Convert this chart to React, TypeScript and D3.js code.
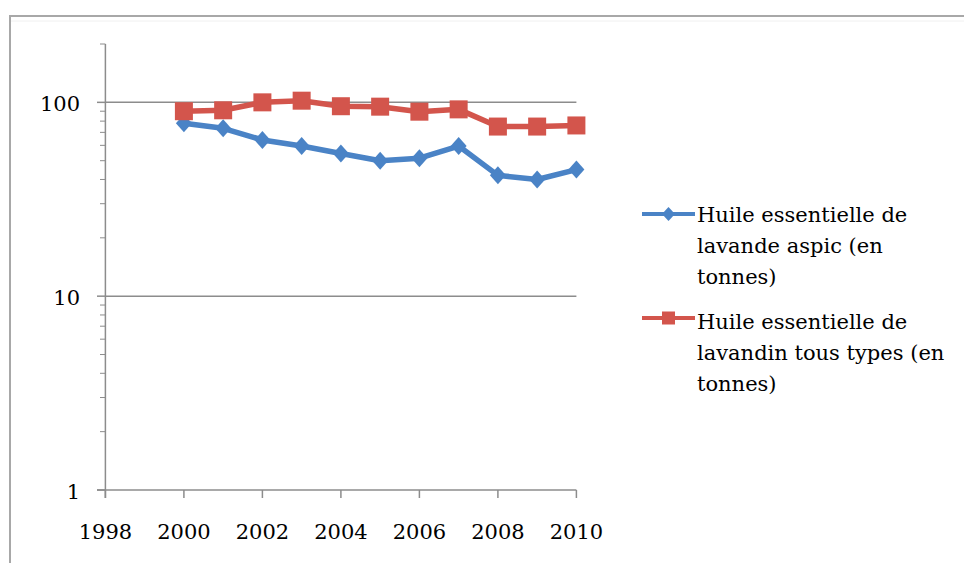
import React from "react";
import * as d3 from "d3";

const years = [2000, 2001, 2002, 2003, 2004, 2005, 2006, 2007, 2008, 2009, 2010];
const aspic = [78, 73.5, 64, 59.5, 54.5, 50, 51.5, 59.5, 42, 40, 45];
const lavandin = [90, 91, 100, 102, 95.5, 95, 89.5, 92, 75, 75, 76];
const xTicks = [1998, 2000, 2002, 2004, 2006, 2008, 2010];
const yMajor = [1, 10, 100];
const legendAspic = ["Huile essentielle de", "lavande aspic (en", "tonnes)"];
const legendLavandin = ["Huile essentielle de", "lavandin tous types (en", "tonnes)"];

const BLUE = "#4a83c6";
const RED = "#d3554c";
const AXIS = "#8c8c8c";
const FONT = "DejaVu Serif";

export default function App() {
  const x = d3.scaleLinear().domain([1998, 2010]).range([105.4, 576.4]);
  const y = d3.scaleLog().domain([1, 200]).range([490, 44]);

  const minor: number[] = [];
  [1, 10, 100].forEach((dec) => {
    for (let k = 2; k <= 9; k++) {
      const v = k * dec;
      if (v <= 200) minor.push(v);
    }
  });

  const line = d3
    .line<number>()
    .x((_, i) => x(years[i]))
    .y((d) => y(d));

  const diamond = (cx: number, cy: number, rx: number, ry: number) =>
    `M${cx},${cy - ry}L${cx + rx},${cy}L${cx},${cy + ry}L${cx - rx},${cy}Z`;

  const x0 = x.range()[0];
  const x1 = x.range()[1];

  return (
    <svg
      width={964}
      height={563}
      style={{ position: "absolute", left: 0, top: 0, background: "#fff" }}
      fontFamily={FONT}
    >
      <rect x={0} y={0} width={964} height={563} fill="#fff" />
      <rect x={10} y={16} width={1000} height={600} fill="none" stroke="#a8a8a8" strokeWidth={2} />
      <line x1={11} x2={964} y1={21} y2={21} stroke="#f0f0f0" strokeWidth={1} />

      {/* gridlines */}
      {yMajor.slice(1).map((v) => (
        <line key={"g" + v} x1={x0} x2={x1} y1={y(v)} y2={y(v)} stroke={AXIS} strokeWidth={1.5} />
      ))}

      {/* y axis */}
      <line x1={x0} x2={x0} y1={y(200)} y2={498} stroke={AXIS} strokeWidth={1.5} />
      {yMajor.map((v) => (
        <line key={"ym" + v} x1={97} x2={x0} y1={y(v)} y2={y(v)} stroke={AXIS} strokeWidth={1.5} />
      ))}
      {minor.map((v) => (
        <line key={"yn" + v} x1={100} x2={x0} y1={y(v)} y2={y(v)} stroke={AXIS} strokeWidth={1} />
      ))}
      {yMajor.map((v) => (
        <text key={"yl" + v} x={80} y={y(v) + 9} fontSize={21} textAnchor="end" fill="#000">
          {String(v)}
        </text>
      ))}

      {/* x axis */}
      <line x1={97} x2={x1} y1={y(1)} y2={y(1)} stroke={AXIS} strokeWidth={1.5} />
      {xTicks.map((t) => (
        <line key={"xt" + t} x1={x(t)} x2={x(t)} y1={y(1)} y2={498} stroke={AXIS} strokeWidth={1.5} />
      ))}
      {xTicks.map((t) => (
        <text key={"xl" + t} x={x(t)} y={539} fontSize={21} textAnchor="middle" fill="#000">
          {String(t)}
        </text>
      ))}

      {/* series */}
      <path d={line(aspic) || ""} fill="none" stroke={BLUE} strokeWidth={5.5} strokeLinejoin="round" />
      {aspic.map((v, i) => (
        <path key={"bd" + i} d={diamond(x(years[i]), y(v), 8, 9)} fill={BLUE} />
      ))}
      <path d={line(lavandin) || ""} fill="none" stroke={RED} strokeWidth={5.5} strokeLinejoin="round" />
      {lavandin.map((v, i) => (
        <rect key={"rs" + i} x={x(years[i]) - 9} y={y(v) - 9} width={18} height={18} fill={RED} />
      ))}

      {/* legend */}
      <line x1={642} x2={695} y1={214} y2={214} stroke={BLUE} strokeWidth={4} />
      <path d={diamond(668.5, 214, 6.5, 7)} fill={BLUE} />
      {legendAspic.map((t, i) => (
        <text key={"la" + i} x={697} y={222 + i * 31} fontSize={21} fill="#000">
          {t}
        </text>
      ))}
      <line x1={642} x2={695} y1={318} y2={318} stroke={RED} strokeWidth={4} />
      <rect x={662} y={311.5} width={13} height={13} fill={RED} />
      {legendLavandin.map((t, i) => (
        <text key={"ll" + i} x={697} y={329 + i * 31} fontSize={21} fill="#000">
          {t}
        </text>
      ))}
    </svg>
  );
}
